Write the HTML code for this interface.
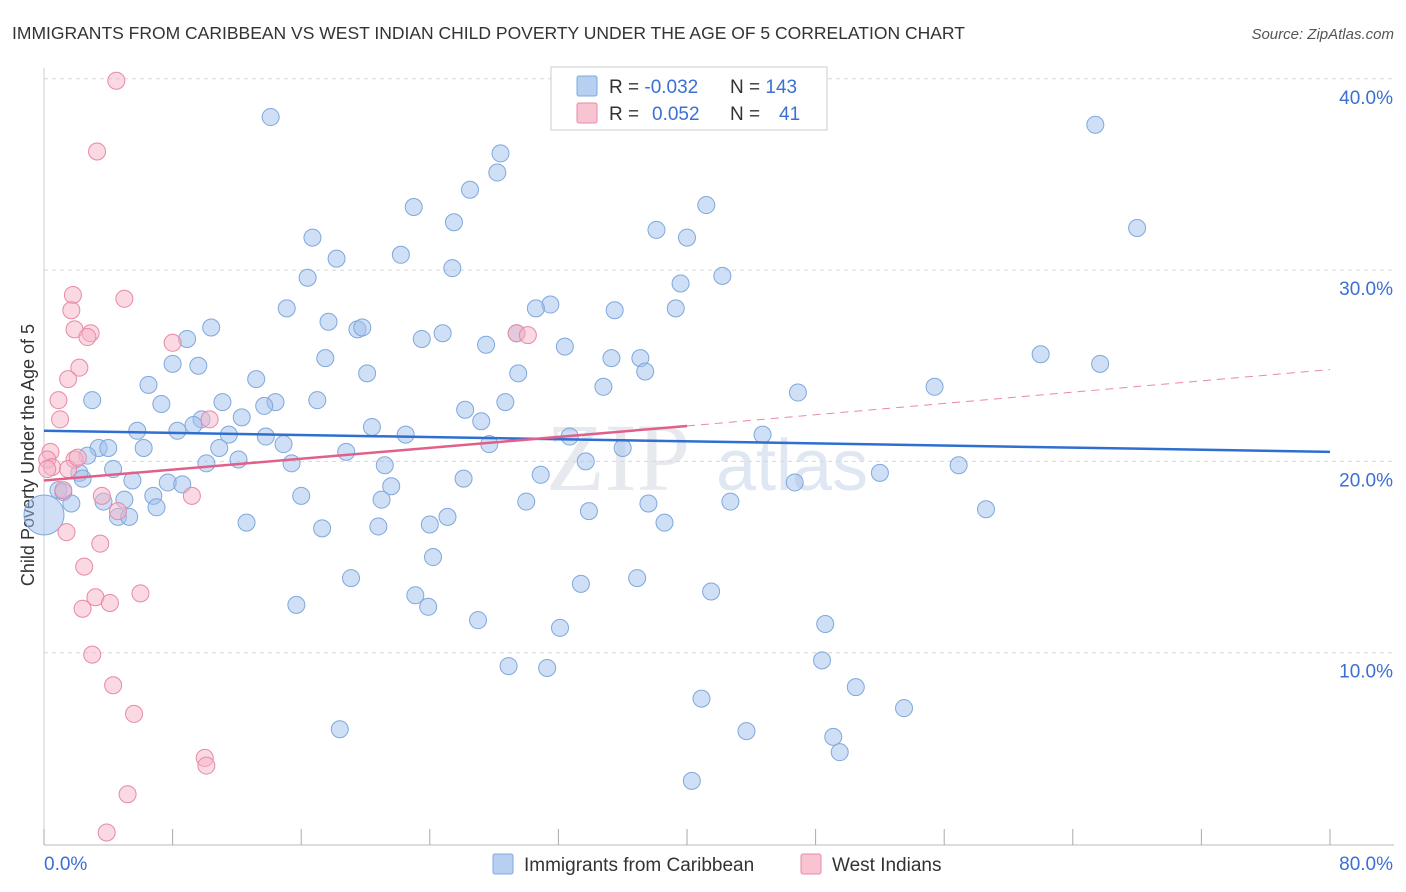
<!DOCTYPE html>
<html><head><meta charset="utf-8"><style>
body{margin:0;background:#fff;font-family:"Liberation Sans",sans-serif;}
svg{display:block}
</style></head><body>
<svg id="chart" width="1406" height="892" xmlns="http://www.w3.org/2000/svg">
<text x="12" y="39" font-size="17.5" fill="#333">IMMIGRANTS FROM CARIBBEAN VS WEST INDIAN CHILD POVERTY UNDER THE AGE OF 5 CORRELATION CHART</text>
<text x="1394" y="39" font-size="15" fill="#555" font-style="italic" text-anchor="end">Source: ZipAtlas.com</text>
<text x="690" y="490" font-size="96" fill="#e6e9ee" text-anchor="end" font-family="Liberation Serif,serif">ZIP</text>
<text x="716" y="490" font-size="72" fill="#dfe7f3">atlas</text>
<g id="grid"></g>
<g id="xaxis"></g>
<text transform="translate(34,455) rotate(-90)" font-size="18" fill="#333" text-anchor="middle">Child Poverty Under the Age of 5</text>
<g id="pts"></g>
<g id="lines"></g>
<g>
<rect x="551" y="67" width="276" height="63" fill="#fff" stroke="#ccc"/>
<rect x="577" y="76" width="20" height="20" fill="#b7d0f2" stroke="#7fa8dc" rx="2"/>
<rect x="577" y="103" width="20" height="20" fill="#f8c4d2" stroke="#e889a6" rx="2"/>
<text x="609" y="93" font-size="19" fill="#333">R = <tspan fill="#3b6fd4">-0.032</tspan><tspan x="730">N = </tspan><tspan fill="#3b6fd4">143</tspan></text>
<text x="609" y="120" font-size="19" fill="#333">R = <tspan x="652" fill="#3b6fd4">0.052</tspan><tspan x="730">N = </tspan><tspan x="779" fill="#3b6fd4">41</tspan></text>
</g>
<g>
<rect x="493" y="854" width="20" height="20" fill="#b7d0f2" stroke="#7fa8dc" rx="2"/>
<text x="524" y="871" font-size="19" fill="#333">Immigrants from Caribbean</text>
<rect x="801" y="854" width="20" height="20" fill="#f8c4d2" stroke="#e889a6" rx="2"/>
<text x="832" y="871" font-size="19" fill="#333">West Indians</text>
</g>
</svg>
<script>
const yTicks=[10,20,30,40];
const yTickLabels=["10.0%","20.0%","30.0%","40.0%"];
const xTicks=[0,8,16,24,32,40,48,56,64,72,80];
const blueX=[14.1,65.4,28.4,28.2,26.5,41.2,23.0,25.5,68.0,38.1,16.7,40.0,22.2,18.2,25.4,16.4,42.2,39.6,15.1,31.5,30.6,35.5,39.3,10.4,17.7,19.5,19.8,24.8,23.5,8.9,27.5,29.4,32.4,62.0,17.5,35.3,37.1,8.0,9.6,20.1,29.5,37.4,65.7,6.5,13.2,34.8,55.4,46.9,3.0,7.3,11.1,14.4,13.7,17.0,28.7,26.2,12.3,9.8,27.2,20.4,5.8,8.3,9.3,11.5,13.8,22.5,32.7,44.7,14.9,10.9,3.4,4.0,6.2,18.8,27.7,36.0,2.7,12.1,10.1,15.4,21.2,33.7,56.9,4.3,2.2,2.4,26.1,30.9,52.0,5.5,7.7,8.6,21.6,0.9,1.2,6.8,5.0,16.0,21.0,30.0,3.7,1.7,37.6,42.7,7.0,33.9,46.7,58.6,25.1,4.6,5.3,12.6,38.6,17.3,20.8,24.0,24.2,19.1,33.4,36.9,23.1,23.9,15.7,41.5,27.0,32.1,48.6,28.9,31.3,48.4,50.5,40.9,53.5,18.4,43.7,49.1,49.5,40.3];
const blueY=[38.0,37.6,36.1,35.1,34.2,33.4,33.3,32.5,32.2,32.1,31.7,31.7,30.8,30.6,30.1,29.6,29.7,29.3,28.0,28.2,28.0,27.9,28.0,27.0,27.3,26.9,27.0,26.7,26.4,26.4,26.1,26.7,26.0,25.6,25.4,25.4,25.4,25.1,25.0,24.6,24.6,24.7,25.1,24.0,24.3,23.9,23.9,23.6,23.2,23.0,23.1,23.1,22.9,23.2,23.1,22.7,22.3,22.2,22.1,21.8,21.6,21.6,21.9,21.4,21.3,21.4,21.3,21.4,20.9,20.7,20.7,20.7,20.7,20.5,20.9,20.7,20.3,20.1,19.9,19.9,19.8,20.0,19.8,19.6,19.4,19.1,19.1,19.3,19.4,19.0,18.9,18.8,18.7,18.5,18.4,18.2,18.0,18.2,18.0,17.9,17.9,17.8,17.8,17.9,17.6,17.4,18.9,17.5,17.1,17.1,17.1,16.8,16.8,16.5,16.6,16.7,15.0,13.9,13.6,13.9,13.0,12.4,12.5,13.2,11.7,11.3,11.5,9.3,9.2,9.6,8.2,7.6,7.1,6.0,5.9,5.6,4.8,3.3];
const pinkX=[4.5,3.3,1.8,5.0,1.7,1.9,2.9,2.7,8.0,2.2,1.5,0.9,1.0,10.3,29.4,30.1,0.4,0.2,0.5,1.9,1.5,2.1,1.2,3.6,9.2,4.6,1.4,3.5,2.5,3.2,4.1,2.4,6.0,3.0,4.3,5.6,10.0,10.1,5.2,3.9,0.2];
const pinkY=[39.9,36.2,28.7,28.5,27.9,26.9,26.7,26.5,26.2,24.9,24.3,23.2,22.2,22.2,26.7,26.6,20.5,20.1,19.7,20.1,19.6,20.2,18.5,18.2,18.2,17.4,16.3,15.7,14.5,12.9,12.6,12.3,13.1,9.9,8.3,6.8,4.5,4.1,2.6,0.6,19.6];
const bigBlue={x:0,y:17.2};
const blueTrend=[21.6,20.5];
const pinkTrend=[19.0,21.85,24.8];

const NS="http://www.w3.org/2000/svg";
const X=v=>44+v*16.075, Y=v=>844-v*19.13;
function mk(tag,attrs,parent){const e=document.createElementNS(NS,tag);for(const k in attrs)e.setAttribute(k,attrs[k]);parent.appendChild(e);return e;}
const grid=document.getElementById('grid');
yTicks.forEach((t,i)=>{
 const l=mk('line',{x1:44,x2:1394,y1:Y(t),y2:Y(t),stroke:'#d8d8d8','stroke-dasharray':'4,4'},grid);
 
 
 const tx=mk('text',{x:1393,y:Y(t)+25,'font-size':19,fill:'#3b6fd4','text-anchor':'end'},grid);
 tx.textContent=yTickLabels[i];
 
 
});
const xa=document.getElementById('xaxis');
const ax=mk('line',{x1:44,x2:1394,y1:845,y2:845,stroke:'#bbb'},xa);


const ay=mk('line',{x1:44,x2:44,y1:68,y2:845,stroke:'#ccc'},xa);


xTicks.forEach(t=>{
 const l=mk('line',{x1:X(t),x2:X(t),y1:829,y2:845,stroke:'#aaa'},xa);
 
 
});
const xl0=mk('text',{x:44,y:870,'font-size':19,fill:'#3b6fd4'},xa);xl0.textContent='0.0%';


const xl1=mk('text',{x:1393,y:870,'font-size':19,fill:'#3b6fd4','text-anchor':'end'},xa);xl1.textContent='80.0%';



const pts=document.getElementById('pts');
blueX.forEach((x,i)=>{
 const c=mk('circle',{cx:X(x),cy:Y(blueY[i]),r:8.5,fill:'rgba(160,192,236,0.5)',stroke:'#7fa8dc','stroke-width':1},pts);
 
 
});
const bb=mk('circle',{cx:X(bigBlue.x),cy:Y(bigBlue.y),r:20,fill:'rgba(160,192,236,0.5)',stroke:'#7fa8dc'},pts);


pinkX.forEach((x,i)=>{
 const c=mk('circle',{cx:X(x),cy:Y(pinkY[i]),r:8.5,fill:'rgba(245,180,200,0.5)',stroke:'#e889a6','stroke-width':1},pts);
 
 
});
const ln=document.getElementById('lines');
const bl=mk('line',{x1:X(0),y1:Y(blueTrend[0]),x2:X(80),y2:Y(blueTrend[1]),stroke:'#2f6fd0','stroke-width':2.5},ln);


const pl=mk('line',{x1:X(0),y1:Y(pinkTrend[0]),x2:X(40),y2:Y(pinkTrend[1]),stroke:'#e0608a','stroke-width':2.5},ln);


const pd=mk('line',{x1:X(40),y1:Y(pinkTrend[1]),x2:X(80),y2:Y(pinkTrend[2]),stroke:'#e889a6','stroke-width':1,'stroke-dasharray':'8,6'},ln);


</script>
</body></html>
